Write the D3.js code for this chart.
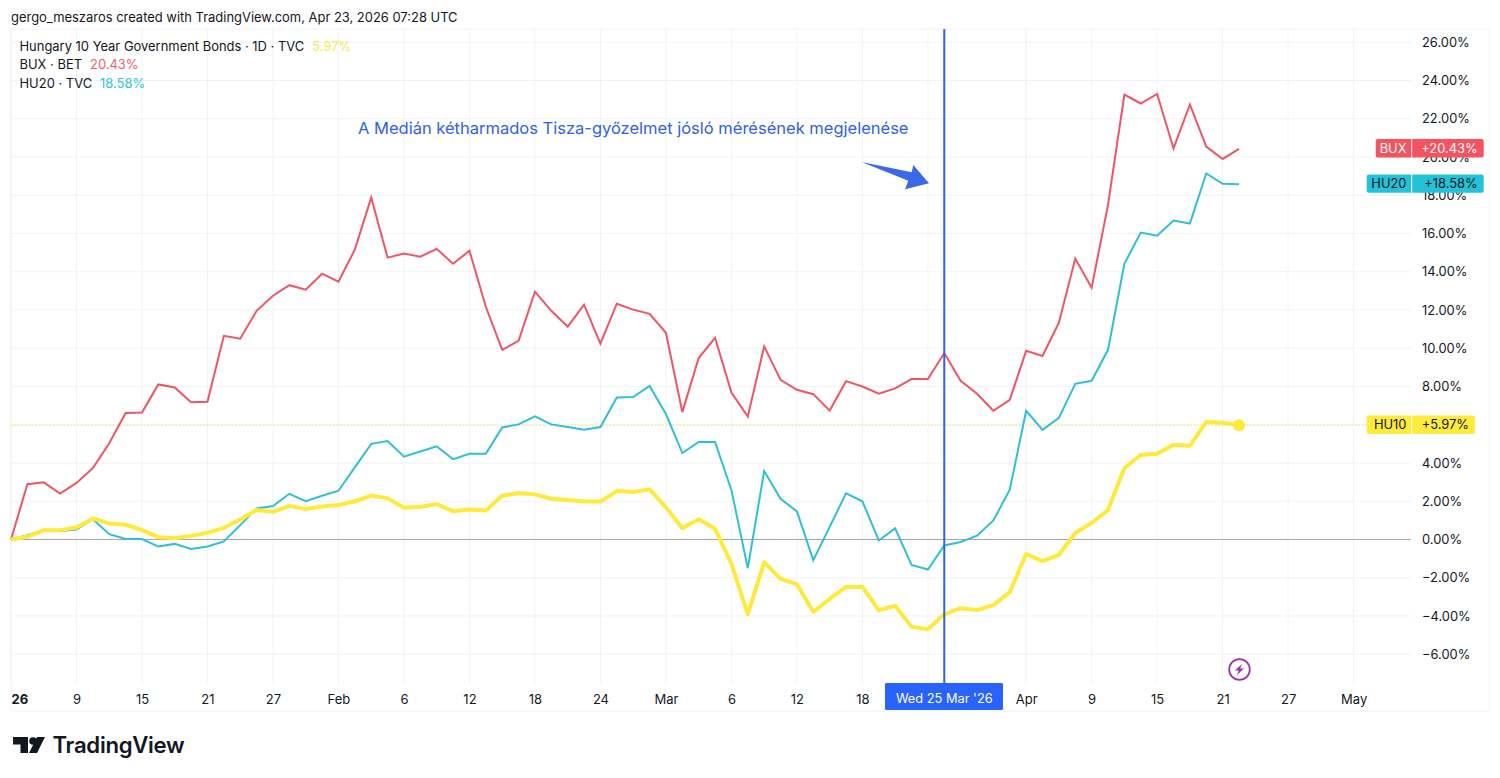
<!DOCTYPE html>
<html><head><meta charset="utf-8">
<style>
html,body{margin:0;padding:0;background:#fff;}
svg{display:block;}
text{font-family:Inter,"Noto Sans",sans-serif;fill:#131722;}
.axis path,.axis line{display:none;}
</style>
<script src="https://cdn.jsdelivr.net/npm/d3@7"></script>
</head><body><svg id="c" width="1500" height="778"></svg>
<script>
const bux=[0,2.89,2.99,2.40,2.96,3.73,5.03,6.62,6.64,8.11,7.95,7.18,7.2,10.65,10.5,11.96,12.75,13.3,13.06,13.9,13.48,15.16,17.88,14.74,14.95,14.79,15.2,14.42,15.1,12.17,9.92,10.39,12.96,11.96,11.13,12.28,10.24,12.33,12.02,11.8,10.81,6.66,9.49,10.55,7.69,6.43,10.1,8.35,7.83,7.6,6.74,8.28,8.0,7.63,7.9,8.39,8.39,9.75,8.3,7.62,6.73,7.3,9.87,9.6,11.34,14.69,13.17,17.5,23.27,22.8,23.3,20.45,22.75,20.55,19.9,20.43];
const hu20=[0,0.23,0.47,0.45,0.52,1.06,0.28,0.03,0.02,-0.37,-0.23,-0.49,-0.37,-0.1,0.75,1.62,1.75,2.39,2.0,2.29,2.55,3.77,5.0,5.15,4.33,4.6,4.87,4.2,4.48,4.48,5.86,6.02,6.44,6.02,5.88,5.74,5.88,7.43,7.45,8.03,6.56,4.52,5.1,5.1,2.58,-1.5,3.58,2.13,1.47,-1.08,0.66,2.41,2.0,-0.05,0.58,-1.33,-1.57,-0.31,-0.13,0.2,1.0,2.6,6.73,5.73,6.36,8.14,8.3,9.92,14.42,16.05,15.89,16.68,16.52,19.14,18.6,18.58];
const hu10=[0,0.14,0.49,0.49,0.63,1.1,0.84,0.77,0.49,0.12,0.07,0.19,0.35,0.61,1.05,1.54,1.45,1.76,1.59,1.73,1.8,2.0,2.3,2.15,1.66,1.71,1.85,1.48,1.57,1.52,2.29,2.43,2.36,2.13,2.06,1.99,1.99,2.53,2.48,2.62,1.68,0.59,1.06,0.56,-1.26,-3.91,-1.19,-2.06,-2.34,-3.79,-3.11,-2.48,-2.48,-3.7,-3.46,-4.57,-4.69,-3.91,-3.59,-3.69,-3.43,-2.75,-0.76,-1.13,-0.81,0.34,0.86,1.54,3.74,4.42,4.48,4.95,4.9,6.15,6.1,5.97];
const xTickIdx=[0,4,8,12,16,20,24,28,32,36,40,44,48,52,56,62,66,70,74,78,82];
const xTickLabels=["26","9","15","21","27","Feb","6","12","18","24","Mar","6","12","18","","Apr","9","15","21","27","May"];
const yTicks=[-6,-4,-2,0,2,4,6,8,10,12,14,16,18,20,22,24,26];
const yHiddenLabel=[6];
const markerIdx=57, markerLabel="Wed 25 Mar '26";
const annotation="A Medián kétharmados Tisza-győzelmet jósló mérésének megjelenése";
const legend=[["Hungary 10 Year Government Bonds · 1D · TVC","5.97%","#f9e94a"],["BUX · BET","20.43%","#f0616f"],["HU20 · TVC","18.58%","#2fc5da"]];
const badges=[["BUX","+20.43%",20.43,"#f7525f","#fff"],["HU20","+18.58%",18.58,"#22c2d8","#131722"],["HU10","+5.97%",5.97,"#ffeb3b","#131722"]];

const svg=d3.select("#c");
const L=11,R=1411,T=29,B=683,AB=711,OR=1489;
const x=d3.scaleLinear().domain([0,75]).range([11,1239]);
const y=d3.scaleLinear().domain([0,26]).range([539.5,42.3]);

svg.append("rect").attr("x",L).attr("y",T).attr("width",OR-L).attr("height",AB-T).attr("fill","none").attr("stroke","#f3f4f6");
const g=svg.append("g");
g.selectAll(".hg").data(yTicks).join("line").attr("x1",L).attr("x2",R).attr("y1",d=>y(d)).attr("y2",d=>y(d)).attr("stroke","#f1f2f4");
g.selectAll(".vg").data(xTickIdx).join("line").attr("x1",d=>x(d)).attr("x2",d=>x(d)).attr("y1",T).attr("y2",B).attr("stroke","#f1f2f4");
g.append("line").attr("x1",L).attr("x2",R).attr("y1",y(0)).attr("y2",y(0)).attr("stroke","#a3a6ac");
g.append("line").attr("x1",L).attr("x2",1367).attr("y1",y(5.97)).attr("y2",y(5.97)).attr("stroke","#fbe64a").attr("stroke-dasharray","1.5 2");

const line=d3.line().x((d,i)=>x(i)).y(d=>y(d)).curve(d3.curveLinear);
g.append("path").attr("d",line(bux)).attr("fill","none").attr("stroke","#ef5565").attr("stroke-width",2);
g.append("path").attr("d",line(hu20)).attr("fill","none").attr("stroke","#2fc0d6").attr("stroke-width",2);
g.append("path").attr("d",line(hu10)).attr("fill","none").attr("stroke","#ffe93b").attr("stroke-width",4).attr("stroke-linejoin","round");
g.append("circle").attr("cx",x(75)).attr("cy",y(5.97)).attr("r",6).attr("fill","#ffe93b");

g.append("line").attr("x1",x(markerIdx)).attr("x2",x(markerIdx)).attr("y1",T).attr("y2",B).attr("stroke","#2f62ea").attr("stroke-width",2);
svg.append("polygon").attr("points","861.7,162 911.7,172.3 913.3,165 929,183.3 905,189.3 908.3,180.7").attr("fill","#3a68e6");
svg.append("text").attr("x",358).attr("y",133.5).attr("font-size",16.5).style("fill","#2f62ea").text(annotation);

const ya=d3.axisRight(y).tickValues(yTicks.filter(v=>!yHiddenLabel.includes(v))).tickSize(0).tickPadding(0).tickFormat(d=>d3.format(".2f")(d)+"%");
svg.append("g").attr("class","axis").attr("transform","translate(1422,-0.5)").call(ya).selectAll("text").attr("font-size",12.9).attr("dy","0.35em").style("font-family","Inter,sans-serif");

const xa=d3.axisBottom(x).tickValues(xTickIdx).tickSize(0).tickPadding(0).tickFormat((d,i)=>xTickLabels[i]);
const xg=svg.append("g").attr("class","axis").attr("transform","translate(0,699)").call(xa);
xg.selectAll("text").attr("font-size",13).attr("dy","0.35em").attr("y",0);
xg.selectAll(".tick").filter(d=>d===0).select("text").attr("text-anchor","start").attr("font-weight",700).attr("dx",0);

const mx=x(markerIdx);
svg.append("rect").attr("x",885).attr("y",683).attr("width",118).attr("height",27).attr("rx",1.5).attr("fill","#2962ff");
svg.append("text").attr("x",mx).attr("y",698.5).attr("dy","0.35em").attr("text-anchor","middle").attr("font-size",12.8).style("fill","#fff").text(markerLabel);

badges.forEach(b=>{
  const cy=y(b[2])-0.6;
  const left=b[0]==="BUX"?1375.7:1366.7, right=b[0]==="HU10"?1475:1483.7;
  svg.append("rect").attr("x",left).attr("y",cy-9.2).attr("width",right-left).attr("height",18.4).attr("rx",2).attr("fill",b[3]);
  svg.append("line").attr("x1",1411.7).attr("x2",1411.7).attr("y1",cy-9.2).attr("y2",cy+9.2).attr("stroke","#fff");
  svg.append("text").attr("x",1406.5).attr("y",cy).attr("dy","0.35em").attr("text-anchor","end").attr("font-size",12.9).style("fill",b[4]).text(b[0]);
  svg.append("text").attr("x",right-6).attr("y",cy).attr("dy","0.35em").attr("text-anchor","end").attr("font-size",12.9).style("fill",b[4]).text(b[1]);
});

legend.forEach((r,i)=>{
  const t=svg.append("text").attr("x",19.5).attr("y",51+18.3*i).attr("font-size",12.95);
  t.append("tspan").text(r[0]);
  t.append("tspan").attr("dx",8).style("fill",r[2]).text(r[1]);
});

svg.append("text").attr("x",11).attr("y",22).attr("font-size",12.95).text("gergo_meszaros created with TradingView.com, Apr 23, 2026 07:28 UTC");

const bolt=svg.append("g").attr("transform",`translate(1239.5,669.5)`);
bolt.append("circle").attr("r",10.3).attr("fill","#fff").attr("stroke","#9c33ad").attr("stroke-width",1.8);
bolt.append("path").attr("d","M2.5,-5.5 L-4.5,1 L-0.8,1 L-2.5,5.5 L4.5,-1 L0.8,-1 Z").attr("fill","#9c33ad");

const logo=svg.append("g").attr("fill","#131722");
logo.append("path").attr("d","M13,737 H28 V753 H20.5 V744.5 H13 Z");
logo.append("circle").attr("cx",33).attr("cy",741).attr("r",3.8);
logo.append("path").attr("d","M37,737 H45 L37,753 H29 Z");
svg.append("text").attr("x",52.5).attr("y",753).attr("font-size",22.2).attr("font-weight",600).attr("letter-spacing",-0.3).text("TradingView");
</script></body></html>
